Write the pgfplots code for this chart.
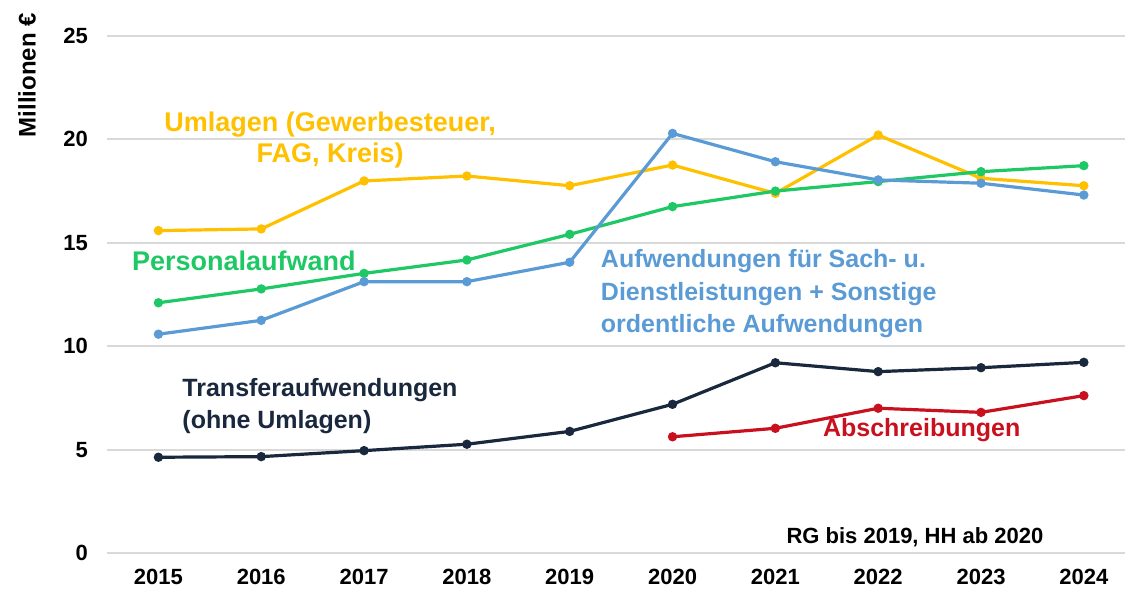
\documentclass[border=0pt]{standalone}
\usepackage{pgfplots}
\pgfplotsset{compat=1.18}
\usepackage{fontspec}
\setmainfont{Liberation Sans}
\definecolor{cyel}{RGB}{255,192,0}
\definecolor{cgrn}{RGB}{30,200,100}
\definecolor{cblu}{RGB}{91,155,213}
\definecolor{cnav}{RGB}{25,40,60}
\definecolor{cred}{RGB}{200,16,30}
\definecolor{cgrid}{RGB}{217,217,217}
\begin{document}
\begin{tikzpicture}
\path[use as bounding box] (0,0) rectangle (562.5pt,297pt);
\begin{axis}[
  at={(53.5pt,20.5pt)}, anchor=south west,
  scale only axis, width=509pt, height=258.5pt,
  xmin=-0.5, xmax=9.4, ymin=0, ymax=25,
  xtick={0,...,9},
  xticklabels={2015,2016,2017,2018,2019,2020,2021,2022,2023,2024},
  ytick={0,5,10,15,20,25},
  axis line style={draw=none},
  major tick length=0pt,
  ymajorgrids, grid style={cgrid, line width=1pt},
  /pgf/number format/assume math mode=true,
  tick label style={font=\fontsize{11}{13}\selectfont\bfseries, text=black},
  xticklabel style={yshift=-4.5pt},
  yticklabel style={xshift=-6pt},
  clip=false,
  every axis plot/.append style={line width=1.6pt, mark=*, mark size=1.5pt},
]
\addplot[cyel, mark options={fill=cyel}] coordinates {(0,15.59) (1,15.67) (2,17.99) (3,18.23) (4,17.76) (5,18.76) (6,17.39) (7,20.21) (8,18.12) (9,17.76)};
\addplot[cgrn, mark options={fill=cgrn}] coordinates {(0,12.10) (1,12.77) (2,13.52) (3,14.17) (4,15.41) (5,16.75) (6,17.50) (7,17.96) (8,18.44) (9,18.73)};
\addplot[cblu, mark options={fill=cblu}] coordinates {(0,10.58) (1,11.25) (2,13.12) (3,13.12) (4,14.06) (5,20.29) (6,18.92) (7,18.04) (8,17.88) (9,17.31)};
\addplot[cnav, mark options={fill=cnav}] coordinates {(0,4.63) (1,4.66) (2,4.95) (3,5.26) (4,5.88) (5,7.19) (6,9.20) (7,8.77) (8,8.96) (9,9.22)};
\addplot[cred, mark options={fill=cred}] coordinates {(5,5.62) (6,6.03) (7,7.00) (8,6.80) (9,7.61)};
\node[text=cyel, font=\fontsize{13.5}{15.75}\selectfont\bfseries, align=center] at (axis cs:1.67,19.98) {Umlagen (Gewerbesteuer,\\FAG, Kreis)};
\node[text=cgrn, font=\fontsize{13.5}{15}\selectfont\bfseries, anchor=west, inner sep=0pt] at (axis cs:-0.26,14.13) {Personalaufwand};
\node[text=cblu, font=\fontsize{12.5}{16.25}\selectfont\bfseries, anchor=west, align=left, inner sep=0pt] at (axis cs:4.30,12.53) {Aufwendungen für Sach- u.\\Dienstleistungen + Sonstige\\ordentliche Aufwendungen};
\node[text=cnav, font=\fontsize{12.5}{15.85}\selectfont\bfseries, anchor=west, align=left, inner sep=0pt] at (axis cs:0.23,7.12) {Transferaufwendungen\\(ohne Umlagen)};
\node[text=cred, font=\fontsize{12.5}{15}\selectfont\bfseries, anchor=west, inner sep=0pt] at (axis cs:6.46,5.95) {Abschreibungen};
\node[text=black, font=\fontsize{11}{13}\selectfont\bfseries, anchor=east, inner sep=0pt] at (axis cs:8.61,0.77) {RG bis 2019, HH ab 2020};
\node[text=black, font=\fontsize{12}{14}\selectfont\bfseries, xshift=-40pt, rotate=90, inner sep=0pt] at (axis cs:-0.5,23.1) {Millionen €};
\end{axis}
\end{tikzpicture}
\end{document}
